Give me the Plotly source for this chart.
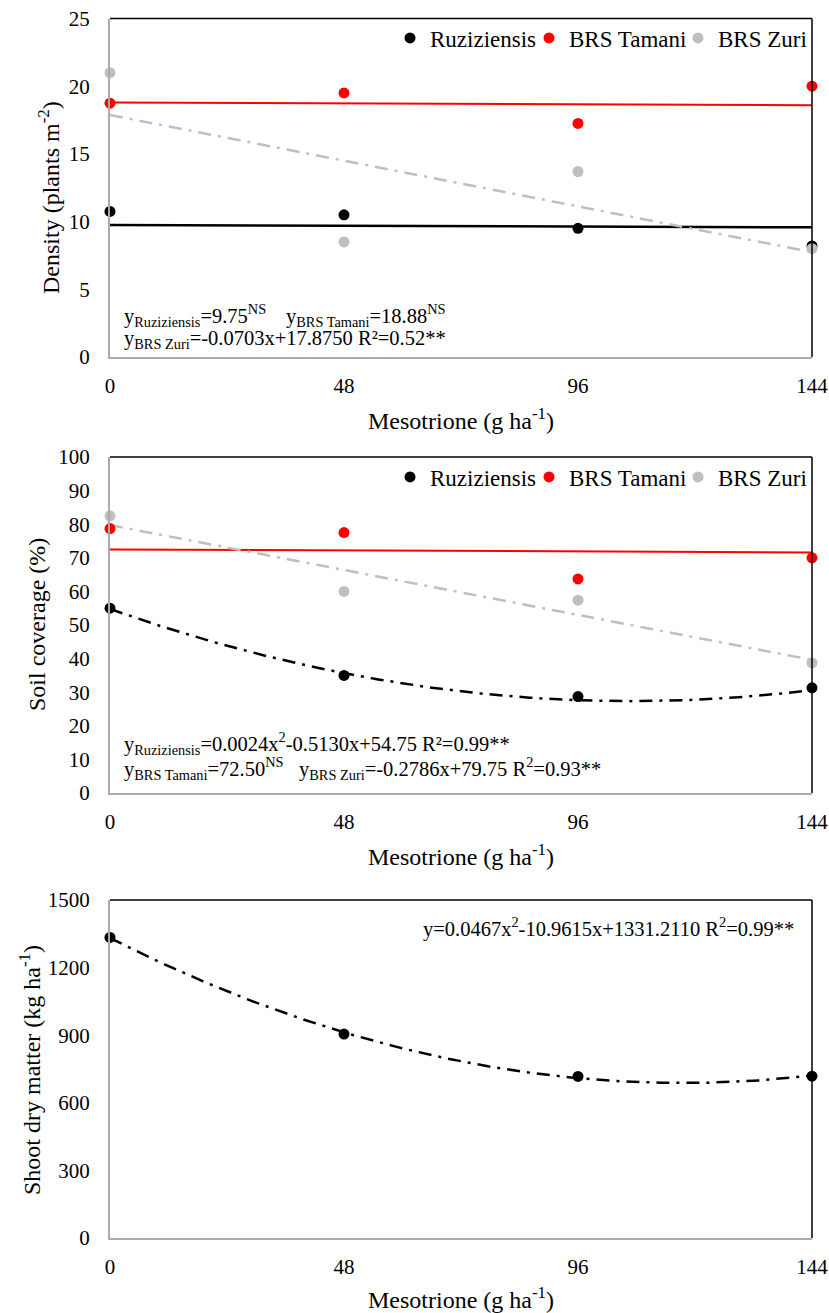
import numpy as np
import plotly.graph_objects as go

# ---------------- data ----------------
doses = [0, 48, 96, 144]
dose_ticks = ["0", "48", "96", "144"]

# Panel 1: density (plants m-2)
dens_ruz = [10.75, 10.5, 9.5, 8.2]
dens_tam = [18.75, 19.5, 17.25, 20.0]
dens_zuri = [21.0, 8.5, 13.7, 8.0]
dens_ruz_fit = [9.75, 9.58]      # drawn trend line ends (NS)
dens_tam_fit = [18.8, 18.6]      # drawn trend line ends (NS)
dens_zuri_coef = [17.8750, -0.0703]          # a + b x

# Panel 2: soil coverage (%)
cov_ruz = [55.0, 35.0, 28.7, 31.3]
cov_tam = [78.7, 77.5, 63.7, 70.0]
cov_zuri = [82.5, 60.0, 57.4, 38.7]
cov_tam_fit = [72.5, 71.6]
cov_ruz_coef = [54.75, -0.5130, 0.0024]      # a + b x + c x^2
cov_zuri_coef = [79.75, -0.2786]

# Panel 3: shoot dry matter (kg ha-1)
sdm = [1334, 905, 717, 718]
sdm_coef = [1331.2110, -10.9615, 0.0467]

series_names = ["Ruziziensis", "BRS Tamani", "BRS Zuri"]

# ---------------- styles ----------------
BLACK = "#000000"
RED = "#FF0000"
GRAY = "#BFBFBF"
AXGRAY = "#ABABAB"
FONT = "Liberation Serif, Times New Roman, DejaVu Serif, serif"
DASHDOT = "13px,7px,3px,7px"
LEG_W = [94, 104, None]   # legend entry widths

W, H = 829, 1313
X0, X1 = 110, 812
panels = [(18.5, 357), (457, 793), (900, 1238)]


def py(p):
    return 1 - p / H


def px(p):
    return p / W


xfit = np.linspace(0, 144, 145)


def poly(coef, x):
    return sum(c * x ** i for i, c in enumerate(coef))


fig = go.Figure()

# ---- panel 1 ----
fig.add_trace(go.Scatter(x=[0, 144], y=dens_ruz_fit, mode="lines", line=dict(color=BLACK, width=2.5),
                         showlegend=False, xaxis="x", yaxis="y"))
fig.add_trace(go.Scatter(x=[0, 144], y=dens_tam_fit, mode="lines", line=dict(color=RED, width=2),
                         showlegend=False, xaxis="x", yaxis="y"))
fig.add_trace(go.Scatter(x=xfit, y=poly(dens_zuri_coef, xfit), mode="lines",
                         line=dict(color=GRAY, width=2.5, dash=DASHDOT),
                         showlegend=False, xaxis="x", yaxis="y"))
for name, vals, col, lw in zip(series_names, [dens_ruz, dens_tam, dens_zuri], [BLACK, RED, GRAY], LEG_W):
    fig.add_trace(go.Scatter(x=doses, y=vals, mode="markers", name=name,
                             marker=dict(color=col, size=11), cliponaxis=False,
                             legend="legend", legendwidth=lw, xaxis="x", yaxis="y"))

# ---- panel 2 ----
fig.add_trace(go.Scatter(x=[0, 144], y=cov_tam_fit, mode="lines", line=dict(color=RED, width=2),
                         showlegend=False, xaxis="x2", yaxis="y2"))
fig.add_trace(go.Scatter(x=xfit, y=poly(cov_zuri_coef, xfit), mode="lines",
                         line=dict(color=GRAY, width=2.5, dash=DASHDOT),
                         showlegend=False, xaxis="x2", yaxis="y2"))
fig.add_trace(go.Scatter(x=xfit, y=poly(cov_ruz_coef, xfit), mode="lines",
                         line=dict(color=BLACK, width=2.5, dash=DASHDOT),
                         showlegend=False, xaxis="x2", yaxis="y2"))
for name, vals, col, lw in zip(series_names, [cov_ruz, cov_tam, cov_zuri], [BLACK, RED, GRAY], LEG_W):
    fig.add_trace(go.Scatter(x=doses, y=vals, mode="markers", name=name,
                             marker=dict(color=col, size=11), cliponaxis=False,
                             legend="legend2", legendwidth=lw, xaxis="x2", yaxis="y2"))

# ---- panel 3 ----
fig.add_trace(go.Scatter(x=xfit, y=poly(sdm_coef, xfit), mode="lines",
                         line=dict(color=BLACK, width=2.5, dash=DASHDOT),
                         showlegend=False, xaxis="x3", yaxis="y3"))
fig.add_trace(go.Scatter(x=doses, y=sdm, mode="markers", name="SDM",
                         marker=dict(color=BLACK, size=11), cliponaxis=False,
                         showlegend=False, xaxis="x3", yaxis="y3"))

tickfont = dict(family=FONT, size=21, color=BLACK)
yranges = [(0, 25, 5), (0, 100, 10), (0, 1500, 300)]

layout = dict(
    template="none",
    width=W, height=H,
    margin=dict(l=0, r=0, t=0, b=0, autoexpand=False),
    paper_bgcolor="white", plot_bgcolor="white",
    font=dict(family=FONT, color=BLACK),
)
shapes = []
for i, ((top, bot), (y0, y1, dy)) in enumerate(zip(panels, yranges)):
    sfx = "" if i == 0 else str(i + 1)
    layout["xaxis" + sfx] = dict(
        domain=[px(X0), px(X1)], range=[0, 144], anchor="y" + sfx, automargin=False,
        tickvals=doses, ticktext=dose_ticks, showgrid=False, zeroline=False,
        showline=True, linecolor=AXGRAY, linewidth=2,
        ticks="outside", ticklen=9, tickcolor="rgba(0,0,0,0)", tickfont=tickfont,
    )
    layout["yaxis" + sfx] = dict(
        domain=[py(bot), py(top)], range=[y0, y1], anchor="x" + sfx, automargin=False,
        tickvals=list(range(y0, y1 + 1, dy)), showgrid=False, zeroline=False,
        showline=True, linecolor=AXGRAY, linewidth=2,
        ticks="outside", ticklen=14, tickcolor="rgba(0,0,0,0)", tickfont=tickfont,
    )
    # top and right frame lines (black)
    shapes.append(dict(type="line", xref="paper", yref="paper", x0=px(X0), x1=px(X1),
                       y0=py(top), y1=py(top), line=dict(color=BLACK, width=1.5)))
    shapes.append(dict(type="line", xref="paper", yref="paper", x0=px(X1), x1=px(X1),
                       y0=py(top), y1=py(bot), line=dict(color=BLACK, width=1.5)))

layout["shapes"] = shapes

legend_common = dict(orientation="h", xanchor="right", yanchor="middle",
                     font=dict(family=FONT, size=23, color=BLACK),
                     bgcolor="rgba(0,0,0,0)", itemwidth=30, tracegroupgap=0,
                     itemclick=False)
layout["legend"] = dict(legend_common, x=px(812), y=py(38))
layout["legend2"] = dict(legend_common, x=px(812), y=py(477))

ann = []
EQ = dict(family=FONT, size=20.5, color=BLACK)


def note(text, x, y, xanchor="left", size=None):
    f = dict(EQ)
    if size:
        f["size"] = size
    ann.append(dict(text=text, x=px(x), y=py(y), xref="paper", yref="paper",
                    xanchor=xanchor, yanchor="middle", showarrow=False, font=f))


# equations panel 1
note("y<sub>Ruziziensis</sub>=9.75<sup>NS</sup>", 122, 316)
note("y<sub>BRS Tamani</sub>=18.88<sup>NS</sup>", 284, 316)
note("y<sub>BRS Zuri</sub>=-0.0703x+17.8750 R²=0.52**", 122, 340)
# equations panel 2
note("y<sub>Ruziziensis</sub>=0.0024x<sup>2</sup>-0.5130x+54.75 R²=0.99**", 122, 743)
note("y<sub>BRS Tamani</sub>=72.50<sup>NS</sup>", 122, 768)
note("y<sub>BRS Zuri</sub>=-0.2786x+79.75 R<sup>2</sup>=0.93**", 297, 768)
# equation panel 3
note("y=0.0467x<sup>2</sup>-10.9615x+1331.2110 R<sup>2</sup>=0.99**", 796, 927, xanchor="right")

# axis titles
xt = "Mesotrione (g ha<sup>-1</sup>)"
for yy in [419, 855, 1298]:
    ann.append(dict(text=xt, x=px((X0 + X1) / 2), y=py(yy), xref="paper", yref="paper",
                    xanchor="center", yanchor="middle", showarrow=False,
                    font=dict(family=FONT, size=24, color=BLACK)))
ytitles = [("Density (plants m<sup>-2</sup>)", 49, 198),
           ("Soil coverage (%)", 37, 625),
           ("Shoot dry matter (kg ha<sup>-1</sup>)", 30, 1070)]
for t, xx, yy in ytitles:
    ann.append(dict(text=t, x=px(xx), y=py(yy), xref="paper", yref="paper",
                    xanchor="center", yanchor="middle", showarrow=False, textangle=-90,
                    font=dict(family=FONT, size=24, color=BLACK)))
layout["annotations"] = ann

fig.update_layout(**layout)
fig.write_html("out.html", post_script="document.body.style.margin='0';",
               config={"displayModeBar": False})
